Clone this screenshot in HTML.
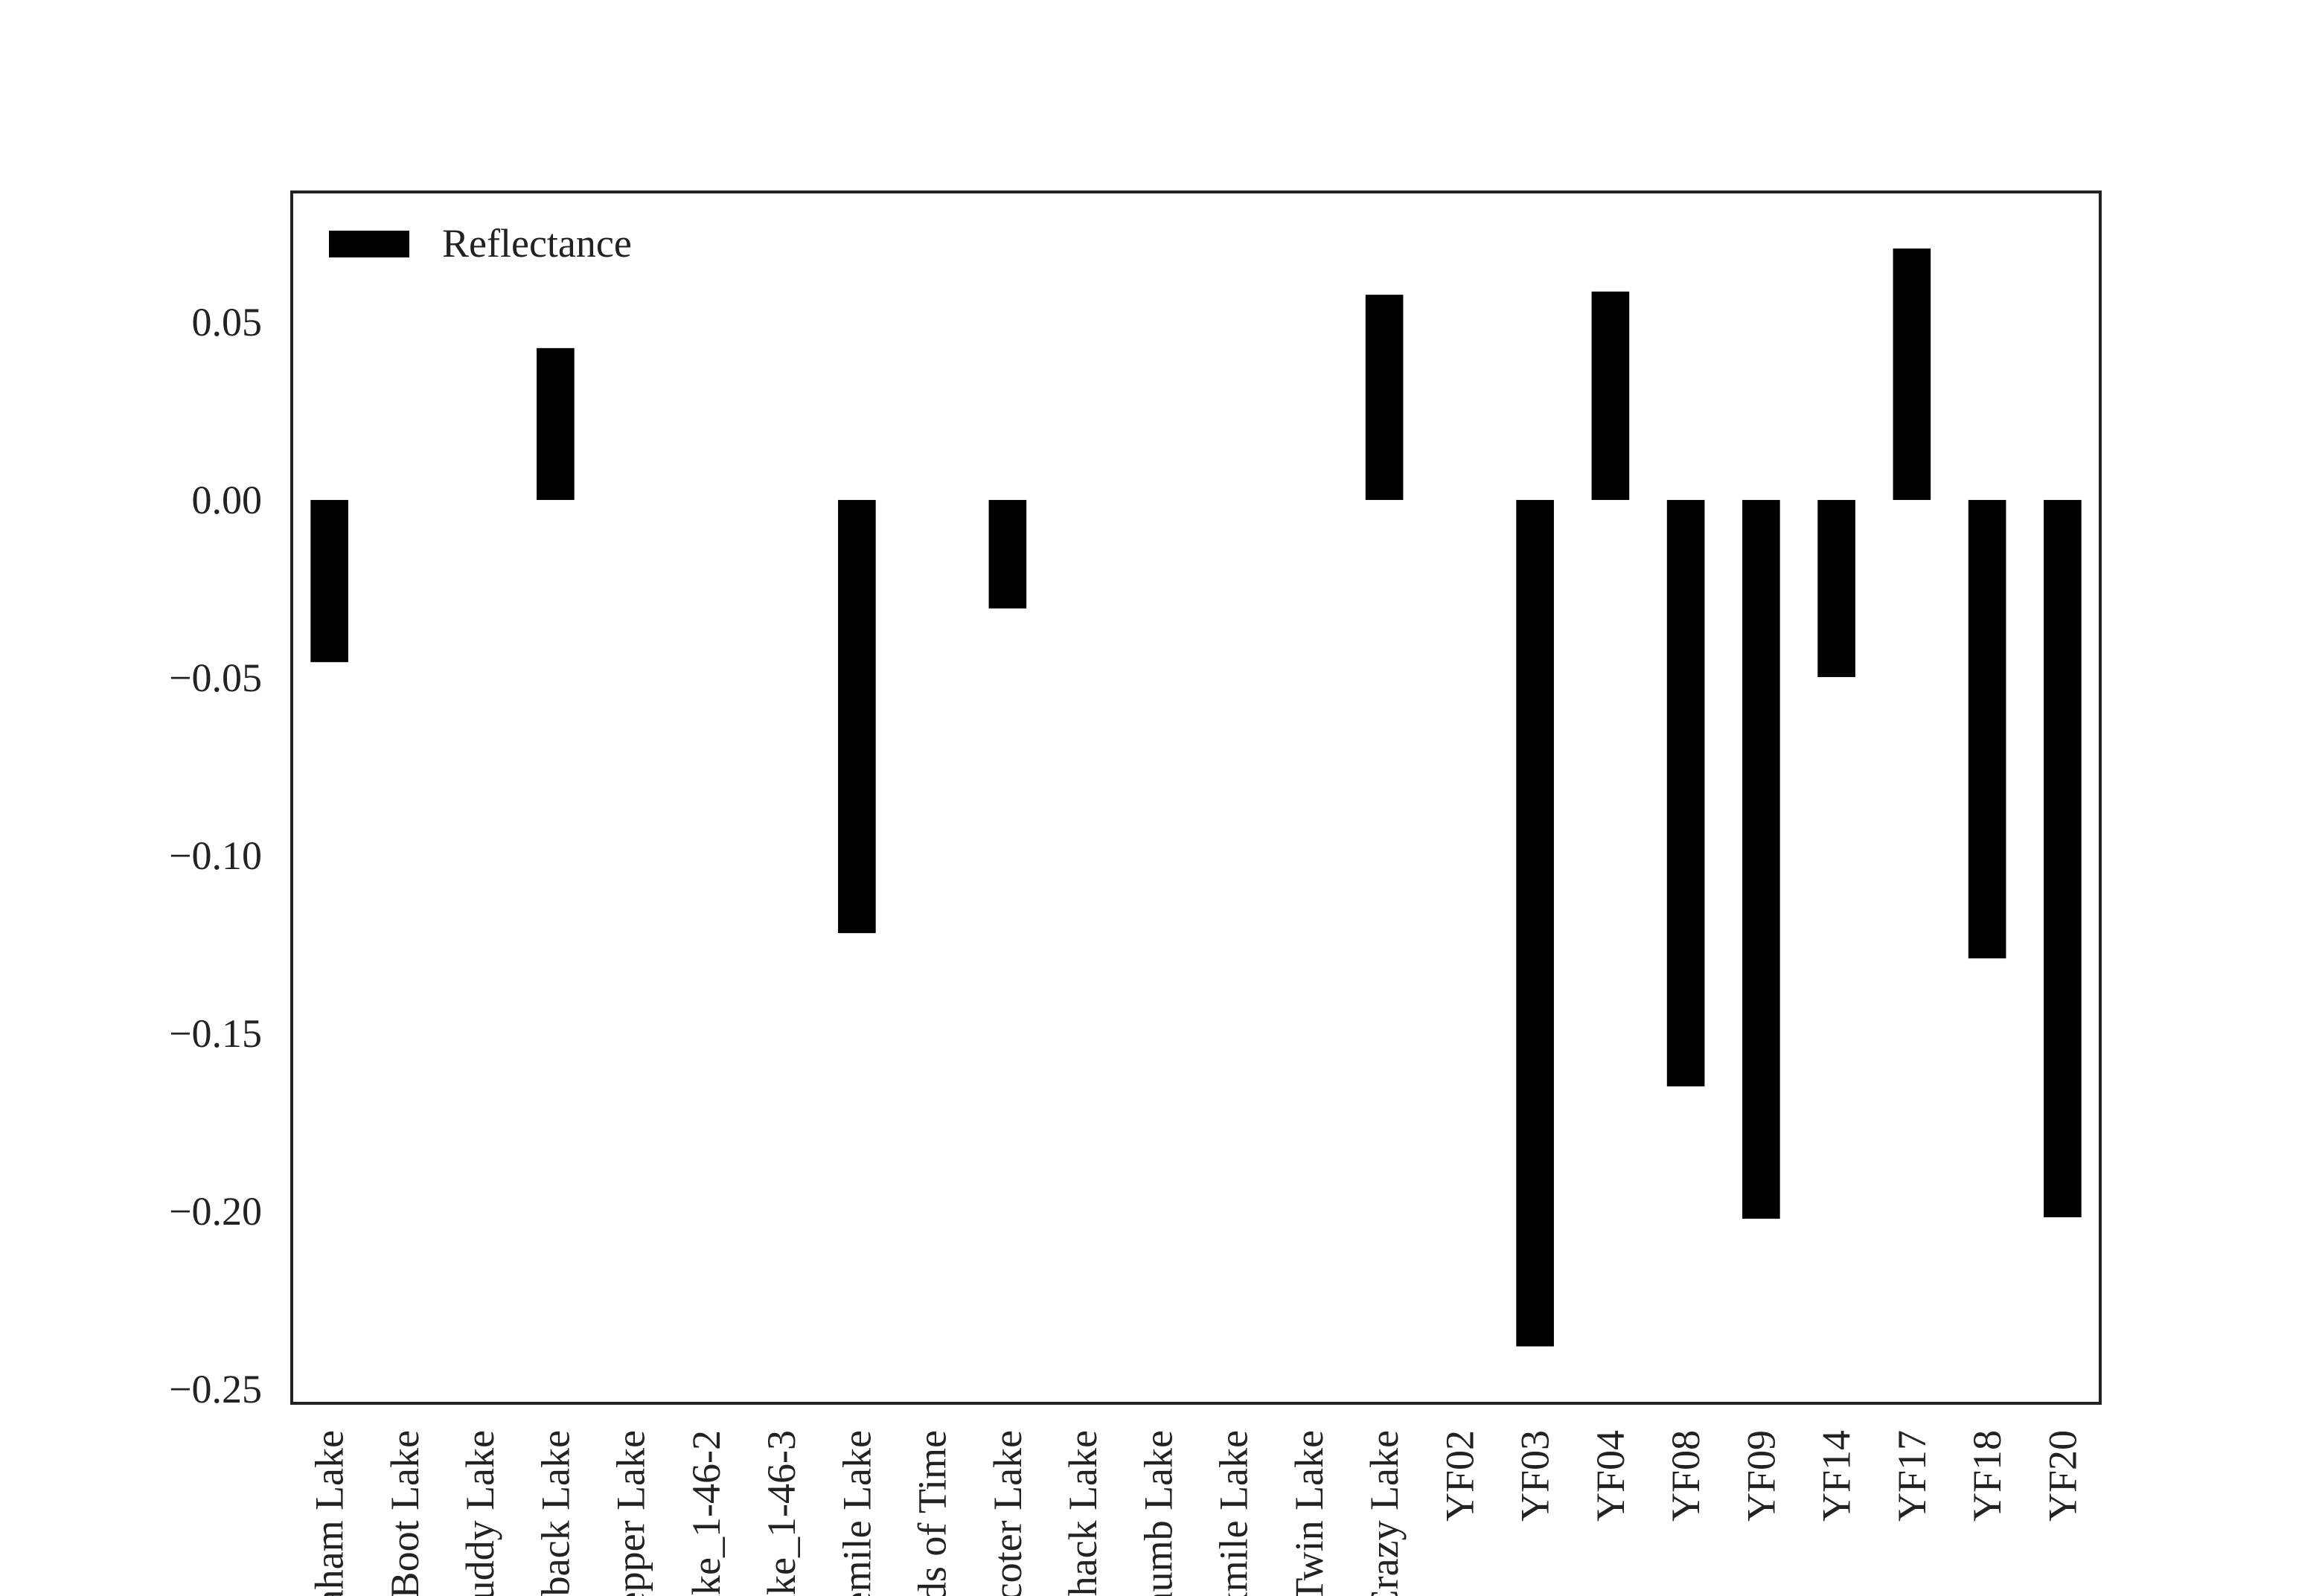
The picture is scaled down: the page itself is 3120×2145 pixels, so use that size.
<!DOCTYPE html>
<html><head><meta charset="utf-8"><style>
html,body{margin:0;padding:0;background:#fff;width:3120px;height:2145px;overflow:hidden;}
svg{display:block;font-family:"Liberation Serif",serif;}
</style></head><body>
<svg id="chart" width="3120" height="2145" viewBox="0 0 3120 2145">
<defs><clipPath id="frameClip"><rect x="0" y="0" width="3120" height="2145"/></clipPath></defs>
<rect x="0" y="0" width="3120" height="2145" fill="#fff"/>
<g id="bars"></g>
<g id="yticks"></g>
<g id="xticks" clip-path="url(#frameClip)"></g>
<rect x="392" y="258" width="2430" height="1628" fill="none" stroke="#222" stroke-width="4"/>
<g>
<rect x="442" y="310" width="108" height="36" fill="#000"/>
<text x="594" y="345" font-size="54" fill="#222">Reflectance</text>
</g>
</svg>
<script>
const categories = ["Graham Lake","Boot Lake","Muddy Lake","Horseback Lake","Pepper Lake","Lake_1-46-2","Lake_1-46-3","Ninemile Lake","Sands of Time","Scoter Lake","Shack Lake","Thumb Lake","Sixmile Lake","Twin Lake","Crazy Lake","YF02","YF03","YF04","YF08","YF09","YF14","YF17","YF18","YF20"];
const values = [-0.0456,0,0,0.0427,0,0,0,-0.1218,0,-0.0305,0,0,0,0,0.0577,0,-0.238,0.0586,-0.1649,-0.2021,-0.0498,0.0707,-0.1289,-0.2017];
const yTicks = [0.05,0.00,-0.05,-0.10,-0.15,-0.20,-0.25];
const yTickLabels = ["0.05","0.00","\u22120.05","\u22120.10","\u22120.15","\u22120.20","\u22120.25"];

const NS="http://www.w3.org/2000/svg";
const X0=392,X1=2822,Y0=258,Y1=1886;
const yMin=-0.2540,yMax=0.0866;
function y(v){return Y1-(v-yMin)/(yMax-yMin)*(Y1-Y0);}
const step=(X1-X0)/categories.length;
function xc(i){return X0+(i+0.5)*step;}
const barW=step*0.5;
const gb=document.getElementById('bars');
values.forEach((v,i)=>{
  const r=document.createElementNS(NS,'rect');
  const top=Math.min(y(v),y(0)),h=Math.abs(y(v)-y(0));
  r.setAttribute('x',xc(i)-barW/2);r.setAttribute('y',top);
  r.setAttribute('width',barW);r.setAttribute('height',h);
  r.setAttribute('fill','#000');
  
  
  gb.appendChild(r);
});
const gy=document.getElementById('yticks');
yTicks.forEach((t,i)=>{
  const tx=document.createElementNS(NS,'text');
  tx.setAttribute('x',352);tx.setAttribute('y',y(t)+18);
  tx.setAttribute('text-anchor','end');tx.setAttribute('font-size','54');tx.setAttribute('fill','#222');
  tx.textContent=yTickLabels[i];
  
  
  gy.appendChild(tx);
});
const gx=document.getElementById('xticks');
categories.forEach((c,i)=>{
  const tx=document.createElementNS(NS,'text');
  const cx=xc(i)+18,cy=1922;
  tx.setAttribute('x',cx);tx.setAttribute('y',cy);
  tx.setAttribute('transform','rotate(-90 '+cx+' '+cy+')');
  tx.setAttribute('text-anchor','end');tx.setAttribute('font-size','54');tx.setAttribute('fill','#222');
  tx.textContent=c;
  
  
  gx.appendChild(tx);
});
</script>
</body></html>
